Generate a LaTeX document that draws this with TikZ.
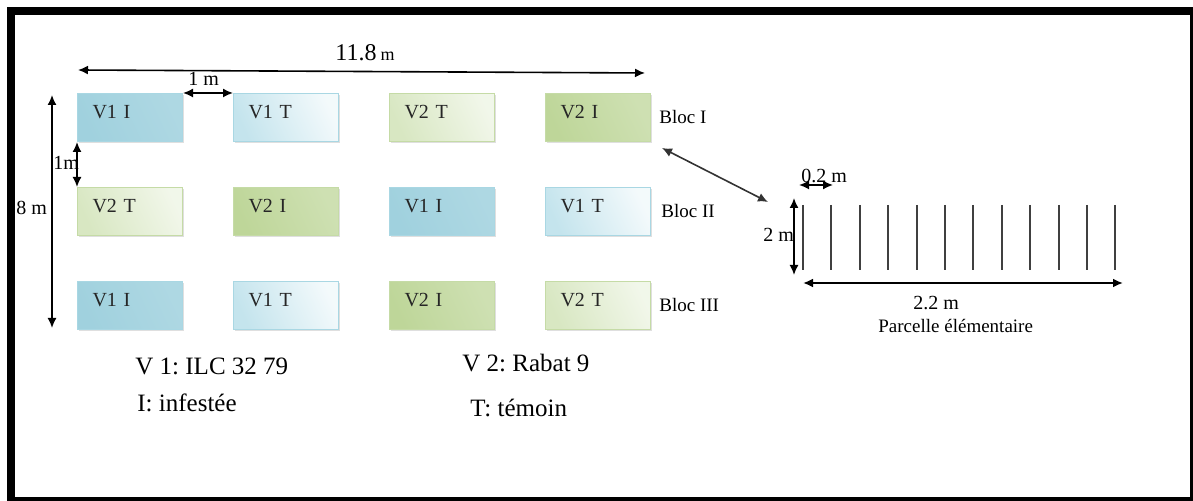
\documentclass[tikz,border=0pt]{standalone}
\usepackage{fontspec}
\setmainfont{Liberation Serif}
\usetikzlibrary{arrows.meta,positioning,shadows}
\frenchspacing

\definecolor{bleuI}{HTML}{A0D1DE}
\definecolor{bleuT}{HTML}{C4E4ED}
\definecolor{bordbleu}{HTML}{A9D7E3}
\definecolor{vertI}{HTML}{BED699}
\definecolor{vertT}{HTML}{D8E7C2}
\definecolor{bordvert}{HTML}{C5DBA6}

\begin{document}
\begin{tikzpicture}[
        x=0.5pt, y=-0.5pt,
        >={Latex[length=5pt,width=4.5pt]},
        node distance=22.5pt and 25pt,
        fleche/.style={<->, line width=.8pt, black},
        case/.style={draw, text width=37.5pt, inner xsep=7.5pt, inner ysep=0pt,
            text height=12.5pt, text depth=11.5pt, align=left,
            font=\fontsize{10}{12}\selectfont, text=black!85, line width=.5pt,
            drop shadow={shadow xshift=.8pt, shadow yshift=-.8pt, opacity=.25}},
        vunI/.style={case, draw=bordbleu, left color=bleuI, middle color=bleuI!55!white,
            right color=bleuI!85!white, shading angle=115},
        vunT/.style={case, draw=bordbleu, left color=bleuT, middle color=bleuT!40!white,
            right color=bleuT!20!white, shading angle=115},
        vdeuxI/.style={case, draw=bordvert, left color=vertI, middle color=vertI!50!white,
            right color=vertI!75!white, shading angle=115},
        vdeuxT/.style={case, draw=bordvert, left color=vertT, middle color=vertT!45!white,
            right color=vertT!35!white, shading angle=115},
        bloc/.style={inner sep=0pt, font=\fontsize{9.5}{11}\selectfont},
        cote/.style={inner sep=0pt, anchor=base west, font=\fontsize{10}{12}\selectfont},
        legende/.style={inner sep=0pt, anchor=base west, font=\fontsize{12.5}{15}\selectfont}
    ]
    \useasboundingbox (0,0) rectangle (1193,501);
    \clip (0,0) rectangle (1193,501);

    % cadre
    \draw[line width=4pt] (11,11) rectangle (1194,501);

    % Blocs
    \node[vunI, anchor=north west] (b11) at (77,93) {V1 I};
    \node[vunT, right=of b11] (b12) {V1 T};
    \node[vdeuxT, right=of b12] (b13) {V2 T};
    \node[vdeuxI, right=of b13] (b14) {V2 I};

    \node[vdeuxT, below=of b11] (b21) {V2 T};
    \node[vdeuxI, right=of b21] (b22) {V2 I};
    \node[vunI, right=of b22] (b23) {V1 I};
    \node[vunT, right=of b23] (b24) {V1 T};

    \node[vunI, below=of b21] (b31) {V1 I};
    \node[vunT, right=of b31] (b32) {V1 T};
    \node[vdeuxI, right=of b32] (b33) {V2 I};
    \node[vdeuxT, right=of b33] (b34) {V2 T};

    \node[bloc, anchor=west, right=4pt of b14] (bI) {Bloc I};
    \node[bloc, anchor=west, right=5pt of b24] (bII) {Bloc II};
    \node[bloc, anchor=west, right=4pt of b34] (bIII) {Bloc III};

    % Cotes du dispositif
    \coordinate (lg0) at (78,70);
    \coordinate (lg1) at (645,73);
    \coordinate (ht0) at (52,95);
    \coordinate (ht1) at (52,328);
    \draw[fleche] (lg0) -- (lg1);
    \draw[fleche] (ht0) -- (ht1);
    \draw[fleche] (b11.north east) -- (b12.north west);
    \draw[fleche] (b11.south west) -- (b21.north west);

    \node[cote, font=\fontsize{12}{14}\selectfont] (c118) at (335,61) {11.8\,{\fontsize{9}{10}\selectfont m}};
    \node[cote] (cun) at (188,86) {1 m};
    \node[cote] (cunv) at (53,170) {1m};
    \node[cote] (chuit) at (16,215) {8 m};

    % Parcelle elementaire
    \foreach \i in {0,...,11}
        \draw[line width=1pt, black!75] (803+28.4*\i,205) coordinate (r\i) -- (803+28.4*\i,270);

    \coordinate (zoom0) at (662,148);
    \coordinate (zoom1) at (768,202);
    \draw[fleche, black!80] (zoom0) -- (zoom1);

    \coordinate (pa0) at (799,185);
    \coordinate (pa1) at (833,185);
    \coordinate (pl0) at (794,198);
    \coordinate (pl1) at (794,275);
    \coordinate (pw0) at (803,283);
    \coordinate (pw1) at (1123,283);
    \draw[fleche] (pa0) -- (pa1);
    \draw[fleche] (pl0) -- (pl1);
    \draw[fleche, line width=1.2pt] (pw0) -- (pw1);

    \node[cote] (cpas) at (801,183) {0.2 m};
    \node[cote] (cdeux) at (763,242) {2 m};
    \node[cote] (clarg) at (913,310) {2.2 m};
    \node[cote, font=\fontsize{9.5}{11}\selectfont] (cparc) at (878,333) {Parcelle élémentaire};

    % Legende
    \node[legende] (lv1) at (135,375) {V 1: ILC 32 79};
    \node[legende] (li) at (137,412) {I: infestée};
    \node[legende] (lv2) at (462,372) {V 2: Rabat 9};
    \node[legende] (lt) at (470,417) {T: témoin};
\end{tikzpicture}
\end{document}
